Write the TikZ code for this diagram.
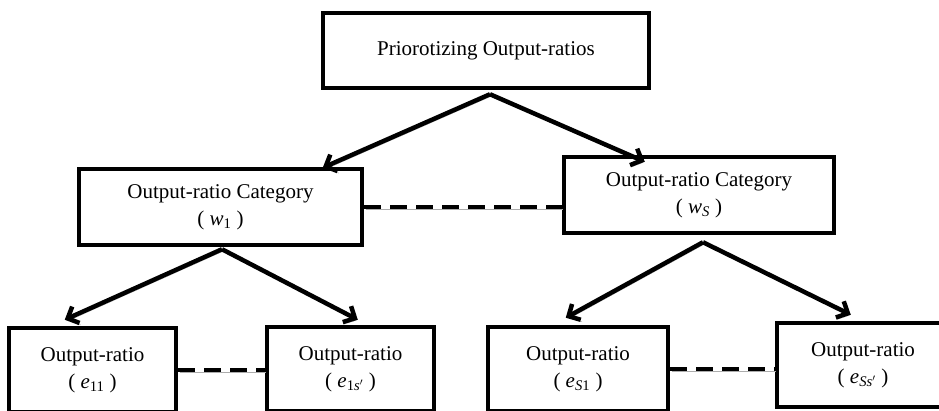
\documentclass[tikz,border=0pt]{standalone}
\usepackage{fontspec}
\setmainfont{Liberation Serif}
\usetikzlibrary{arrows.meta,calc}
\begin{document}
\begin{tikzpicture}[x=1pt,y=-1pt,
  box/.style={draw=black, line width=4.5pt, inner sep=0pt, align=center,
    font=\fontsize{21}{27}\selectfont},
  shad/.style={preaction={draw=gray!65, transform canvas={shift={(1.3pt,-2pt)}}}},
  arr/.style={line width=4.5pt, shad, -{Straight Barb[length=9pt,width=18pt]}},
  dsh/.style={line width=4.5pt, shad, dash pattern=on 17pt off 9pt}]
\useasboundingbox (0,0) rectangle (939,411);
\clip (0,0) rectangle (939,411);

\node[box, minimum width=326pt, minimum height=75pt] (top) at (486,50.5) {Priorotizing Output-ratios};
\node[box, minimum width=283pt, minimum height=76pt] (cat1) at (220.5,207) {Output-ratio Category\\( \textit{w}\textsubscript{1} )};
\node[box, minimum width=270pt, minimum height=76pt] (catS) at (699,195) {Output-ratio Category\\( \textit{w}\textsubscript{\textit{S}} )};

\node[box, minimum width=167pt, minimum height=84pt] (e11) at (92.5,370) {Output-ratio\\( \textit{e}\textsubscript{11} )};
\node[box, minimum width=167pt, minimum height=84pt] (e1s) at (350.5,369) {Output-ratio\\( \textit{e}\textsubscript{1\textit{s}$'$} )};
\node[box, minimum width=180pt, minimum height=84pt] (eS1) at (578,369) {Output-ratio\\( \textit{e}\textsubscript{\textit{S}1} )};
\node[box, minimum width=172pt, minimum height=84pt] (eSs) at (863,365) {Output-ratio\\( \textit{e}\textsubscript{\textit{Ss}$'$} )};

\draw[arr] ($(top.south)+(4,4)$) -- ($(cat1.north west)+(246,1)$);
\draw[arr] ($(top.south)+(4,4)$) -- ($(catS.north west)+(83,7)$);
\draw[arr] ($(cat1.south)+(1.5,2)$) -- ($(e11.north west)+(58,-6)$);
\draw[arr] ($(cat1.south)+(1.5,2)$) -- ($(e1s.north west)+(93,-5)$);
\draw[arr] ($(catS.south)+(4,7)$) -- ($(eS1.north west)+(80,-7)$);
\draw[arr] ($(catS.south)+(4,7)$) -- ($(eSs.north west)+(76,-6)$);

\draw[dsh] (cat1.east) -- (cat1.east -| catS.west);
\draw[dsh] (e11.east) -- (e11.east -| e1s.west);
\draw[dsh] (eS1.east) -- (eS1.east -| eSs.west);
\end{tikzpicture}
\end{document}
